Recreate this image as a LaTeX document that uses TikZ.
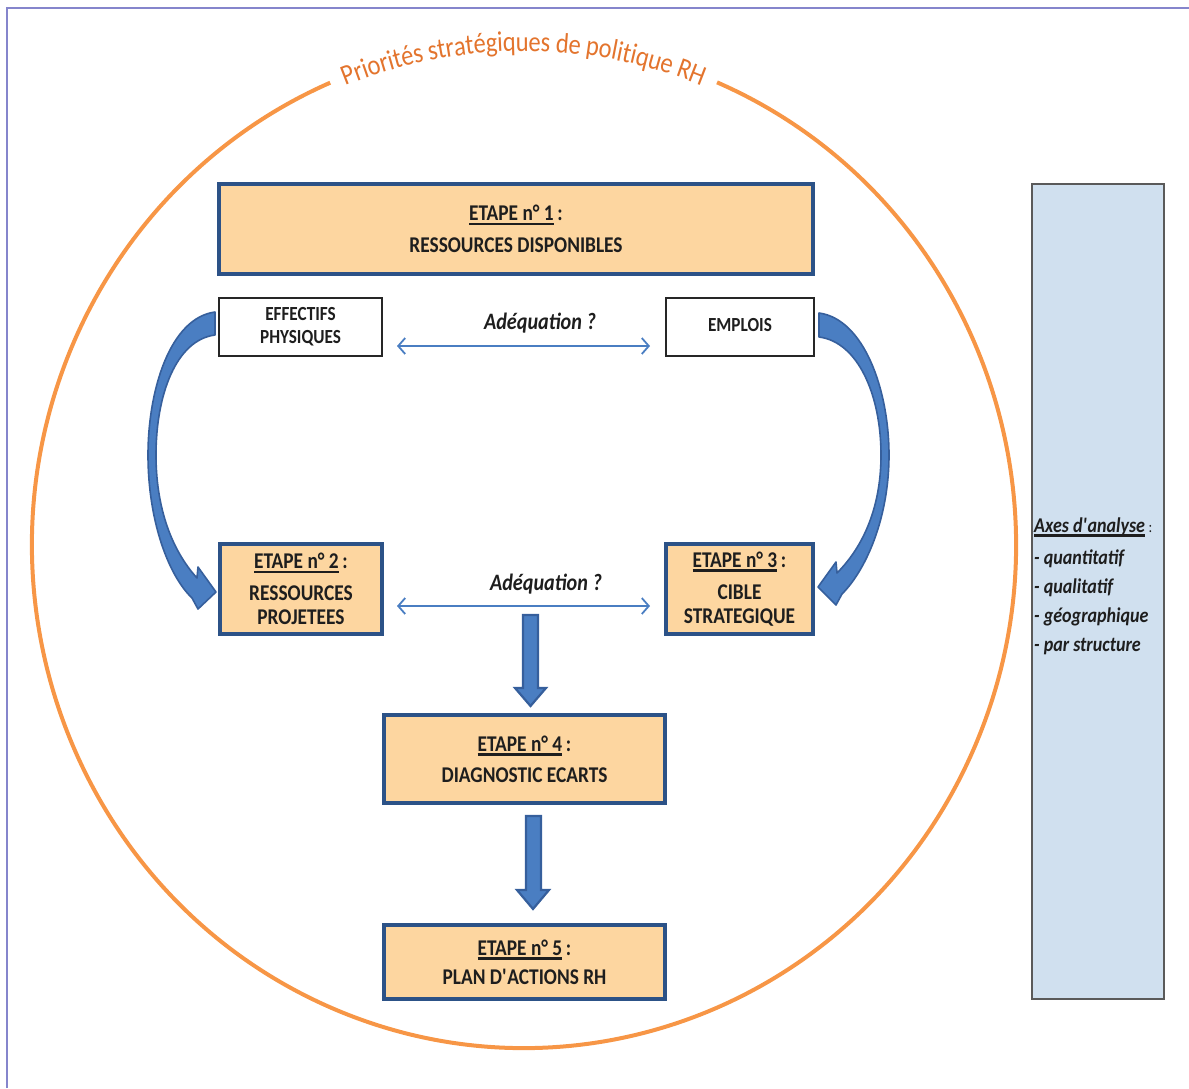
\documentclass[tikz,border=0pt]{standalone}
\usepackage{fontspec}
\setmainfont{Carlito}[FakeStretch=0.86]
\usetikzlibrary{arrows.meta,decorations.text,calc}
\definecolor{frameP}{HTML}{8585CC}
\definecolor{ring}{HTML}{F79646}
\definecolor{titleO}{HTML}{E3742D}
\definecolor{stepfill}{HTML}{FDD6A0}
\definecolor{stepline}{HTML}{2C5287}
\definecolor{arrowB}{HTML}{4A7EC2}
\definecolor{arrowD}{HTML}{365F9C}
\definecolor{sidefill}{HTML}{D0E0EF}
\definecolor{sideline}{HTML}{5A5A5A}
\definecolor{txt}{HTML}{1E1E1E}
\newcommand\ulx[1]{\setbox0\hbox{#1}\rlap{\rule[-4.5pt]{\wd0}{2.4pt}}\box0}
\tikzset{
  stepbox/.style={draw=stepline, line width=4pt, fill=stepfill, text=txt,
    font=\bfseries\fontsize{22.5}{24}\selectfont, align=center, inner sep=0pt},
  plainbox/.style={draw=black!85, line width=2pt, fill=white, text=txt,
    font=\bfseries\fontsize{20}{23}\selectfont, align=center, inner sep=0pt},
  sidebox/.style={draw=sideline, line width=2pt, fill=sidefill, inner sep=0pt},
  asklabel/.style={text=txt, font=\bfseries\itshape\fontsize{23.5}{24}\selectfont, inner sep=0pt},
  dblarrow/.style={draw=arrowB, line width=1.8pt,
    {Straight Barb[length=7pt,width=16pt]}-{Straight Barb[length=7pt,width=16pt]}},
  blockarrow/.style={fill=arrowB, draw=arrowD, line width=2.2pt, line join=miter},
  curvearrow/.style={fill=arrowB, draw=arrowD, line width=1.6pt, line join=round},
}
\begin{document}
\begin{tikzpicture}[x=1pt,y=-1pt]
\useasboundingbox (0,0) rectangle (1189,1088);
\draw[frameP, line width=1.5pt] (7,1088) -- (7,8) -- (1189,8);

% ring and title
\coordinate (C) at (524,545);
\draw[ring, line width=4pt] (C) ++(293.1:492 and 503)
  arc[start angle=293.1, end angle=606.8, x radius=492, y radius=503];
\path[decorate, decoration={text along path,
   text={|\fontsize{28.5}{29}\selectfont\color{titleO}|Priorités stratégiques de politique RH},
   text align=center, raise=-9pt}]
  (C) ++(246.3:492 and 503) arc[start angle=246.3, end angle=293.6, x radius=492, y radius=503];

% boxes
\node[stepbox, minimum width=594pt, minimum height=90pt] (e1) at (516,229)
  {\ulx{ETAPE n° 1}\,:\\[8pt]RESSOURCES DISPONIBLES};
\node[plainbox, minimum width=163pt, minimum height=58pt] (eff) at (300.5,327)
  {EFFECTIFS\\PHYSIQUES};
\node[plainbox, minimum width=148pt, minimum height=58pt] (emp) at (740,327)
  {\raisebox{4pt}{EMPLOIS}};
\node[stepbox, minimum width=162pt, minimum height=90pt] (e2) at (301,589)
  {\ulx{ETAPE n° 2}\,:\\[8pt]RESSOURCES\\PROJETEES};
\node[stepbox, minimum width=147pt, minimum height=90pt] (e3) at (739.5,589)
  {\ulx{ETAPE n° 3}\,:\\[8pt]CIBLE\\STRATEGIQUE};
\node[stepbox, minimum width=281pt, minimum height=88pt] (e4) at (524.5,759)
  {\ulx{ETAPE n° 4}\,:\\[7pt]DIAGNOSTIC ECARTS};
\node[stepbox, minimum width=281pt, minimum height=74pt] (e5) at (524.5,962)
  {\ulx{ETAPE n° 5}\,:\\[5pt]PLAN D\textquotesingle ACTIONS RH};
\node[sidebox, minimum width=132pt, minimum height=815pt] (side) at (1098,591.5) {};
\node[anchor=west, align=left, text=txt, inner sep=0pt,
  font=\bfseries\itshape\fontsize{21}{29}\selectfont] (axes) at (1034,586)
  {\ulx{Axes d\textquotesingle analyse}\,{\normalfont\fontsize{16}{16}\selectfont:}\\[3pt]
   - quantitatif\\- qualitatif\\- géographique\\- par structure};

% adequation labels and arrows
\node[asklabel] (q1) at (540,323) {Adéquation ?};
\node[asklabel] (q2) at (546,584) {Adéquation ?};
\draw[dblarrow, shorten <=14pt, shorten >=15pt] ([yshift=-19pt]eff.east) -- ([yshift=-19pt]emp.west);
\draw[dblarrow, shorten <=13pt, shorten >=14pt] ([yshift=-17pt]e2.east) -- ([yshift=-17pt]e3.west);

% block arrows down
\draw[blockarrow] (523,615) -- (538,615) -- (538,688) -- (546,688) -- (530.5,706)
  -- (515,688) -- (523,688) -- cycle;
\draw[blockarrow] (526,816) -- (541,816) -- (541,890) -- (549,890) -- (533,909)
  -- (517,890) -- (526,890) -- cycle;

% curved arrows
\draw[curvearrow] (215,312) .. controls (170,318) and (148,390) .. (148,455)
  .. controls (148,520) and (168,575) .. (192,598) -- (198,609) -- (216,592)
  -- (198,567) -- (197,578) .. controls (176,555) and (156,515) .. (156,455)
  .. controls (156,395) and (176,340) .. (215,335) -- cycle;
\draw[curvearrow] (819,313) .. controls (864,319) and (889,390) .. (889,455)
  .. controls (889,518) and (866,570) .. (842,594) -- (836,605) -- (818,587)
  -- (836,562) -- (837,573) .. controls (860,550) and (881,512) .. (881,455)
  .. controls (881,395) and (858,342) .. (819,337) -- cycle;
\end{tikzpicture}
\end{document}
